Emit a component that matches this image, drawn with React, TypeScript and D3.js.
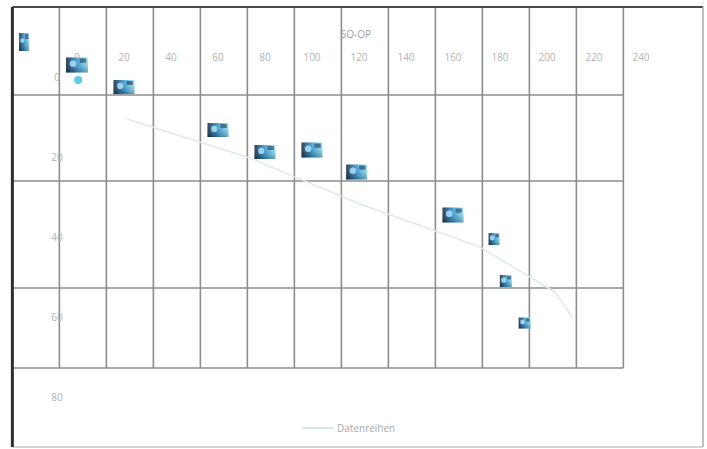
import React from "react";
import * as d3 from "d3";

// Axis ticks
const xTickValues = [0, 20, 40, 60, 80, 100, 120, 140, 160, 180, 200, 220, 240];
const yTickValues = [0, 20, 40, 60, 80];

// Picture markers (x, y in axis units; y grows downward)
const markerX = [-22.5, 0, 20, 60, 80, 100, 119, 160, 177.5, 182.5, 190.5];
const markerY = [-8.75, -3, 2.5, 13.25, 18.75, 18.25, 23.75, 34.5, 40.5, 51, 61.5];

// "Datenreihen" line series
const lineX = [21.3, 73.6, 120.4, 171.5, 203.4, 211];
const lineY = [10.5, 20.25, 31.75, 42.5, 53.75, 60.25];

// Single accent point beside the first marker cluster
const accentX = [0.5];
const accentY = [0.75];

// Cell boundaries of the background grid, in axis units
const gridColumns = d3.range(-7.5, 233, 20);
const gridRows = [-17.5, 4.5, 26, 52.75, 72.75];

const legendLabel = "Datenreihen";
const axisTitle = "SO-OP";

const W = 707;
const H = 449;

const x = d3.scaleLinear().domain([0, 240]).range([77, 641]);
const y = d3.scaleLinear().domain([0, 80]).range([77, 397]);

// marker box sizes (w, h) per marker, drawing style only
const markerSizes: [number, number][] = [
  [10, 18],
  [22, 15],
  [21, 14],
  [21, 14],
  [21, 14],
  [21, 15],
  [21, 15],
  [21, 15],
  [11, 12],
  [12, 12],
  [12, 11],
];

const labelFont = "'Open Sans', 'DejaVu Sans', sans-serif";

export default function App() {
  const frameLeft = x(-27.5);
  const frameTop = y(-17.5);
  const frameRight = 703;
  const frameBottom = 447;
  const gridRight = x(gridColumns[gridColumns.length - 1]);
  const gridBottom = y(gridRows[gridRows.length - 1]);

  const line = d3
    .line<number>()
    .x((_, i) => x(lineX[i]))
    .y((_, i) => y(lineY[i]))
    .curve(d3.curveLinear);

  return (
    <svg
      width={W}
      height={H}
      viewBox={`0 0 ${W} ${H}`}
      style={{ position: "fixed", left: 0, top: 0, background: "#fff" }}
    >
      <defs>
        <linearGradient id="mk" x1="0" y1="0" x2="1" y2="0">
          <stop offset="0%" stopColor="#1a2a3c" />
          <stop offset="30%" stopColor="#2a6ea8" />
          <stop offset="62%" stopColor="#4ab6ec" />
          <stop offset="100%" stopColor="#a4ecfa" />
        </linearGradient>
        <linearGradient id="mkShade" x1="0" y1="0" x2="0" y2="1">
          <stop offset="0%" stopColor="#ffffff" stopOpacity={0.1} />
          <stop offset="100%" stopColor="#0d1a28" stopOpacity={0.35} />
        </linearGradient>
        <filter id="soft" x="-20%" y="-20%" width="140%" height="140%">
          <feGaussianBlur stdDeviation="0.6" />
        </filter>
      </defs>

      {/* grid */}
      <g stroke="#8c8c8c" strokeWidth={1.6}>
        {gridColumns.map((c, i) => (
          <line key={`c${i}`} x1={x(c)} x2={x(c)} y1={frameTop} y2={gridBottom} />
        ))}
        {gridRows.slice(1).map((r, i) => (
          <line key={`r${i}`} x1={frameLeft} x2={gridRight} y1={y(r)} y2={y(r)} />
        ))}
      </g>

      {/* outer frame */}
      <line x1={frameLeft} x2={frameRight} y1={frameTop} y2={frameTop} stroke="#4a4a4a" strokeWidth={2} />
      <line x1={frameRight} x2={frameRight} y1={frameTop} y2={frameBottom} stroke="#a8a8a8" strokeWidth={1.5} />
      <line x1={frameLeft} x2={frameRight} y1={frameBottom} y2={frameBottom} stroke="#c4c4c4" strokeWidth={1.5} />
      <line x1={frameLeft} x2={frameLeft} y1={frameTop} y2={frameBottom} stroke="#2e2e2e" strokeWidth={3} />

      {/* axis labels */}
      <g fontFamily={labelFont} fontSize={10} fill="#b3b3b3" textAnchor="middle">
        {xTickValues.map((v) => (
          <text key={`xt${v}`} x={x(v)} y={61}>
            {v}
          </text>
        ))}
        {yTickValues.map((v) => (
          <text key={`yt${v}`} x={57} y={y(v) + 4}>
            {v}
          </text>
        ))}
        <text x={356} y={38} fill="#a0a0a0">
          {axisTitle}
        </text>
      </g>

      {/* line series */}
      <path
        d={line(lineX) ?? ""}
        fill="none"
        stroke="#dde9eb"
        strokeWidth={1.5}
        strokeLinejoin="round"
      />

      {/* accent point */}
      {accentX.map((v, i) => (
        <circle key={`a${i}`} cx={x(v)} cy={y(accentY[i])} r={4} fill="#5ccde6" filter="url(#soft)" />
      ))}

      {/* picture markers */}
      <g filter="url(#soft)">
        {markerX.map((v, i) => {
          const [w, h] = markerSizes[i];
          const cx = x(v);
          const cy = y(markerY[i]);
          return (
            <g key={`m${i}`} transform={`translate(${cx - w / 2},${cy - h / 2})`}>
              <rect width={w} height={h} fill="url(#mk)" />
              <rect width={w} height={h} fill="url(#mkShade)" />
              <circle cx={w * 0.32} cy={h * 0.42} r={Math.min(w, h) * 0.22} fill="#a9e2f6" opacity={0.85} />
              <rect x={w * 0.62} y={1} width={w * 0.3} height={h * 0.28} fill="#1e3348" opacity={0.6} />
            </g>
          );
        })}
      </g>

      {/* legend */}
      <g>
        <line x1={302} x2={334} y1={428} y2={428} stroke="#c2e2e6" strokeWidth={1.5} />
        <text x={337} y={432} fontFamily={labelFont} fontSize={10} fill="#a8a8a8">
          {legendLabel}
        </text>
      </g>
    </svg>
  );
}
